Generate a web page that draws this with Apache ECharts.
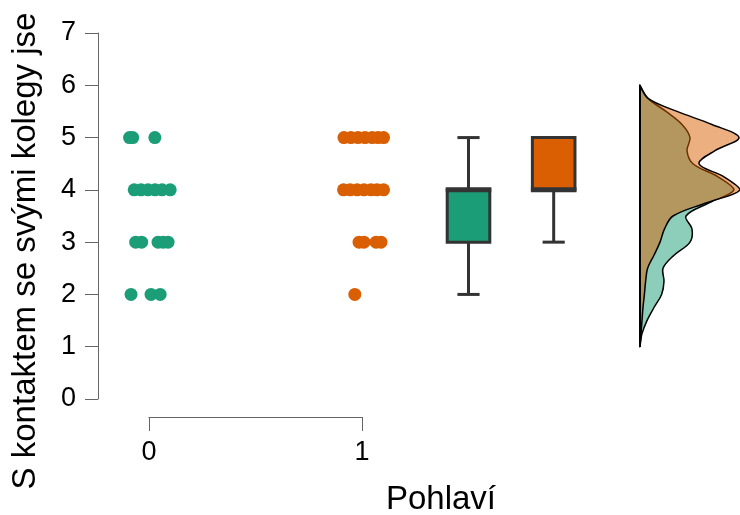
<!DOCTYPE html>
<html><head><meta charset="utf-8">
<script src="https://cdn.jsdelivr.net/npm/echarts@6/dist/echarts.min.js"></script>
<style>html,body{margin:0;padding:0;background:#fff}#c{width:740px;height:515px}</style>
</head><body><div id="c"></div>
<script>
// ---- data ----
const groupNames = ['0', '1'];
const xTickLabels = ['0', '1'];
const yTickLabels = ['0', '1', '2', '3', '4', '5', '6', '7'];
const xTitle = 'Pohlaví';
const yTitle = 'S kontaktem se svými kolegy jse';

// jittered raw points (x = group + jitter, y = score)
const g0X = [-0.092, -0.077, 0.027, -0.070, -0.038, -0.005, 0.028, 0.061, 0.099, -0.063, -0.035, 0.042, 0.066, 0.089, -0.085, 0.009, 0.052];
const g0Y = [5, 5, 5, 4, 4, 4, 4, 4, 4, 3, 3, 3, 3, 3, 2, 2, 2];
const g1X = [0.915, 0.948, 0.981, 1.014, 1.047, 1.075, 1.101, 0.913, 0.944, 0.977, 1.009, 1.042, 1.070, 1.101, 0.986, 1.009, 1.066, 1.089, 0.966];
const g1Y = [5, 5, 5, 5, 5, 5, 5, 4, 4, 4, 4, 4, 4, 4, 3, 3, 3, 3, 2];

// boxplots: [min, Q1, median, Q3, max]
const boxPos = [1.5, 1.9];
const boxStats = [[2, 3, 4, 4, 5], [3, 4, 4, 5, 5]];

// half-violin densities
const densLevels = [1, 1.25, 1.5, 1.75, 2, 2.25, 2.5, 2.75, 3, 3.25, 3.5, 3.75, 4, 4.25, 4.5, 4.75, 5, 5.25, 5.5, 5.75, 6];
const densG0 = [0, 0.01, 0.035, 0.07, 0.108, 0.12, 0.115, 0.17, 0.25, 0.26, 0.23, 0.345, 0.47, 0.39, 0.265, 0.235, 0.25, 0.21, 0.13, 0.04, 0];
const densG1 = [0, 0.005, 0.01, 0.015, 0.022, 0.028, 0.038, 0.07, 0.1, 0.122, 0.165, 0.33, 0.5, 0.42, 0.295, 0.375, 0.495, 0.36, 0.185, 0.04, 0];

// ---- styles ----
const COLORS = ['#1b9e77', '#d95f02'];
const FILLS = ['rgba(27,158,119,0.5)', 'rgba(217,95,2,0.5)'];
const FONT = 'Liberation Sans, Arial, Helvetica, sans-serif';
const AXIS_COLOR = '#666';
const TICK_FONT = 27;

const chart = echarts.init(document.getElementById('c'), null, { renderer: 'canvas' });

function zip(xs, ys) { return xs.map((x, i) => [x, ys[i]]); }

const option = {
  animation: false,
  backgroundColor: '#fff',
  grid: [
    { left: 98, right: 0, top: 33, bottom: 116, outerBoundsMode: 'none', containLabel: false },
    { left: 149, right: 378, top: 33, bottom: 98, outerBoundsMode: 'none', containLabel: false },
    { left: 640, right: 0, top: 33, bottom: 116, outerBoundsMode: 'none', containLabel: false }
  ],
  xAxis: [
    { gridIndex: 0, type: 'value', min: -0.24, max: 2.775, show: false },
    {
      gridIndex: 1, type: 'value', min: 0, max: 1, interval: 1,
      axisLine: { show: true, onZero: false, lineStyle: { color: AXIS_COLOR, width: 1 } },
      axisTick: { show: true, length: 14, lineStyle: { color: AXIS_COLOR, width: 1 } },
      axisLabel: { show: true, margin: 22, fontSize: TICK_FONT, color: '#000', fontFamily: FONT,
        showMinLabel: true, showMaxLabel: true, hideOverlap: false,
        formatter: v => xTickLabels[Math.round(v)] },
      splitLine: { show: false }
    },
    { gridIndex: 2, type: 'value', min: 0, max: 0.5, show: false }
  ],
  yAxis: [
    {
      gridIndex: 0, type: 'value', min: 0, max: 7, interval: 1,
      axisLine: { show: true, onZero: false, lineStyle: { color: AXIS_COLOR, width: 1 } },
      axisTick: { show: true, length: 13, lineStyle: { color: AXIS_COLOR, width: 1 } },
      axisLabel: { show: true, margin: 22, fontSize: TICK_FONT, color: '#000', fontFamily: FONT,
        showMinLabel: true, showMaxLabel: true, hideOverlap: false,
        formatter: v => yTickLabels[Math.round(v)] },
      splitLine: { show: false }
    },
    { gridIndex: 1, type: 'value', min: 0, max: 7, show: false },
    { gridIndex: 2, type: 'value', min: 0, max: 7, show: false }
  ],
  series: [
    {
      type: 'custom', xAxisIndex: 2, yAxisIndex: 2, silent: true, z: 2,
      data: [[0, 1], [1, 1]],
      renderItem: (params, api) => {
        const arr = params.dataIndex === 0 ? densG0 : densG1;
        const pts = arr.map((d, i) => api.coord([d, densLevels[i]]));
        let x0 = Infinity, y0 = Infinity, x1 = -Infinity, y1 = -Infinity;
        pts.forEach(p => { x0 = Math.min(x0, p[0]); y0 = Math.min(y0, p[1]); x1 = Math.max(x1, p[0]); y1 = Math.max(y1, p[1]); });
        const children = [{
          type: 'polygon',
          shape: { points: pts, smooth: 0.35, smoothConstraint: [[x0, y0], [x1, y1]] },
          style: { fill: FILLS[params.dataIndex], stroke: '#000', lineWidth: 1.5 }
        }];
        if (params.dataIndex === 1) {
          const a = api.coord([0, densLevels[0]]);
          const b = api.coord([0, densLevels[densLevels.length - 1]]);
          children.push({ type: 'line', shape: { x1: a[0], y1: a[1], x2: b[0], y2: b[1] },
            style: { stroke: '#000', lineWidth: 2 } });
        }
        return { type: 'group', children };
      }
    },
    {
      type: 'custom', xAxisIndex: 0, yAxisIndex: 0, silent: true, z: 3,
      data: boxPos.map((p, i) => [p].concat(boxStats[i])),
      renderItem: (params, api) => {
        const x = api.value(0), mn = api.value(1), q1 = api.value(2), md = api.value(3), q3 = api.value(4), mx = api.value(5);
        const halfBox = 0.1, halfCap = 0.052;
        const c = (a, b) => api.coord([a, b]);
        const ln = (p1, p2, w) => ({ type: 'line', shape: { x1: p1[0], y1: p1[1], x2: p2[0], y2: p2[1] },
          style: { stroke: '#333', lineWidth: w, lineCap: 'butt' } });
        const ch = [];
        if (mx > q3) { ch.push(ln(c(x, q3), c(x, mx), 3)); }
        ch.push(ln(c(x - halfCap, mx), c(x + halfCap, mx), 3));
        if (mn < q1) { ch.push(ln(c(x, mn), c(x, q1), 3)); }
        ch.push(ln(c(x - halfCap, mn), c(x + halfCap, mn), 3));
        const tl = c(x - halfBox, q3), br = c(x + halfBox, q1);
        ch.push({ type: 'rect', shape: { x: tl[0], y: tl[1], width: br[0] - tl[0], height: br[1] - tl[1] },
          style: { fill: COLORS[params.dataIndex], stroke: '#333', lineWidth: 3 } });
        const m1 = c(x - halfBox, md), m2 = c(x + halfBox, md);
        m1[0] -= 1.5; m2[0] += 1.5;
        ch.push(ln(m1, m2, 5));
        return { type: 'group', children: ch };
      }
    },
    {
      name: groupNames[0], type: 'scatter', xAxisIndex: 0, yAxisIndex: 0, silent: true, z: 4,
      symbol: 'circle', symbolSize: 13, data: zip(g0X, g0Y),
      itemStyle: { color: COLORS[0], opacity: 1 }
    },
    {
      name: groupNames[1], type: 'scatter', xAxisIndex: 0, yAxisIndex: 0, silent: true, z: 4,
      symbol: 'circle', symbolSize: 13, data: zip(g1X, g1Y),
      itemStyle: { color: COLORS[1], opacity: 1 }
    }
  ],
  graphic: [
    { type: 'text', x: 441, y: 500, silent: true,
      style: { text: xTitle, font: '33px ' + FONT, fill: '#000', textAlign: 'center', textVerticalAlign: 'middle' } },
    { type: 'text', x: 26, y: 251, rotation: Math.PI / 2, silent: true,
      style: { text: yTitle, font: '33px ' + FONT, fill: '#000', textAlign: 'center', textVerticalAlign: 'middle' } }
  ]
};
chart.setOption(option);
</script>
</body></html>
